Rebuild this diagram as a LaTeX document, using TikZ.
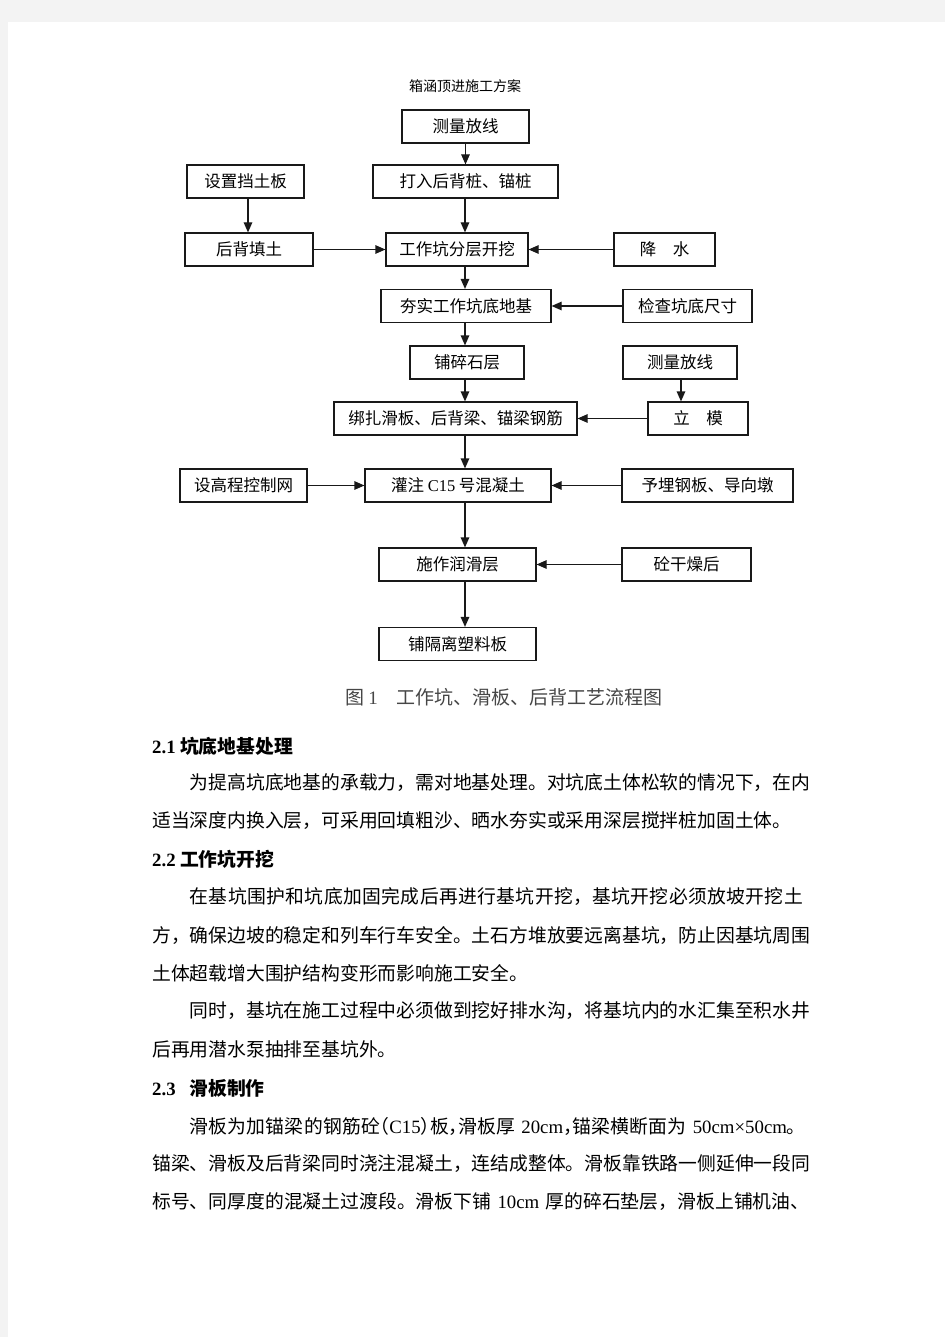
\documentclass[tikz,border=0pt]{standalone}
\usepackage{fontspec}
\setmainfont{Liberation Serif}
\newfontfamily\cjk{Noto Sans CJK SC}
\XeTeXlinebreaklocale "zh"
\XeTeXlinebreakskip=0pt plus 2pt minus 1pt
\usetikzlibrary{arrows.meta}
\definecolor{seite}{RGB}{243,243,243}
\definecolor{linie}{RGB}{25,25,25}
\definecolor{beschrift}{RGB}{70,70,70}
\newcommand{\lat}[1]{{\rmfamily #1}}
\newcommand{\zeile}[1]{{\noindent #1\parfillskip=0pt\par}}
\newcommand{\halbl}[1]{\makebox[0.5em][r]{#1}}
\newcommand{\halbr}[1]{\makebox[0.5em][l]{#1}}

\begin{document}
\begin{tikzpicture}[x=1pt, y=-1pt,
    stepbox/.style={draw=linie, line width=1.2pt, minimum height=33pt, inner sep=0pt, font=\cjk\fontsize{16.5}{18}\selectfont},
    flow/.style={draw=linie, line width=1.2pt, -{Triangle[length=10pt,width=8.5pt]}},
    bodytext/.style={anchor=west, inner sep=0pt, font=\cjk\fontsize{18.8}{22}\selectfont},
    fullline/.style={bodytext, text width=658pt}]
    \useasboundingbox (0,0) rectangle (945,1337);
    \fill[seite] (0,0) rectangle (945,1337);
    \fill[white] (8,22) rectangle (945,1337);

    % \draw[red] (152,730) rectangle (810,1220);

    \node (titel) at (465,86) {\cjk\fontsize{14}{16}\selectfont 箱涵顶进施工方案};
    \coordinate (spine) at (465,0);

    \node[stepbox, minimum width=127pt] (cl1) at (465.5,126.5) {测量放线};
    \node[stepbox, minimum width=185pt] (dr) at (465.5,181.5) {打入后背桩、锚桩};
    \node[stepbox, minimum width=117pt] (sz) at (245.5,181.5) {设置挡土板};
    \node[stepbox, minimum width=128pt] (ht) at (249,249.5) {后背填土};
    \node[stepbox, minimum width=142pt] (gk) at (457,249.5) {工作坑分层开挖};
    \node[stepbox, minimum width=101pt] (js) at (664.5,249.5) {降　水};
    \node[stepbox, minimum width=170pt] (hs) at (466,306) {夯实工作坑底地基};
    \node[stepbox, minimum width=129pt] (jc) at (687.5,306) {检查坑底尺寸};
    \node[stepbox, minimum width=114pt] (ps) at (467,362.5) {铺碎石层};
    \node[stepbox, minimum width=114pt] (cl2) at (680,362.5) {测量放线};
    \node[stepbox, minimum width=243pt] (bz) at (455.5,418.5) {绑扎滑板、后背梁、锚梁钢筋};
    \node[stepbox, minimum width=100pt] (lm) at (698,418.5) {立　模};
    \node[stepbox, minimum width=127pt] (sg) at (243.5,485.5) {设高程控制网};
    \node[stepbox, minimum width=186pt] (gz) at (458,485.5) {灌注 \lat{C15} 号混凝土};
    \node[stepbox, minimum width=171pt] (ym) at (707.5,485.5) {予埋钢板、导向墩};
    \node[stepbox, minimum width=157pt] (rh) at (457.5,564.5) {施作润滑层};
    \node[stepbox, minimum width=129pt] (tg) at (686.5,564.5) {砼干燥后};
    \node[stepbox, minimum width=157pt] (pg) at (457.5,644) {铺隔离塑料板};

    \draw[flow] (cl1) -- (dr);
    \draw[flow] (dr.south -| spine) -- (gk.north -| spine);
    \draw[flow] (sz.south -| 248,0) -- (ht.north -| 248,0);
    \draw[flow] (ht) -- (gk);
    \draw[flow] (js) -- (gk);
    \draw[flow] (gk.south -| spine) -- (hs.north -| spine);
    \draw[flow] (jc) -- (hs);
    \draw[flow] (hs.south -| spine) -- (ps.north -| spine);
    \draw[flow] (ps.south -| spine) -- (bz.north -| spine);
    \draw[flow] (cl2.south -| 681,0) -- (lm.north -| 681,0);
    \draw[flow] (lm) -- (bz);
    \draw[flow] (bz.south -| spine) -- (gz.north -| spine);
    \draw[flow] (sg) -- (gz);
    \draw[flow] (ym) -- (gz);
    \draw[flow] (gz.south -| spine) -- (rh.north -| spine);
    \draw[flow] (tg) -- (rh);
    \draw[flow] (rh.south -| spine) -- (pg.north -| spine);

    \node[anchor=west, inner sep=0pt, text=beschrift, font=\cjk\fontsize{19}{22}\selectfont] (bild) at (345,697) {图 \lat{1}\hspace{1em}工作坑、滑板、后背工艺流程图};

    \node[bodytext] (h1) at (152,746) {\bfseries\lat{2.1} 坑底地基处理};
    \node[fullline] (t1a) at (152,783) {\zeile{\hspace*{2em}为提高坑底地基的承载力，需对地基处理。对坑底土体松软的情况下，在内}};
    \node[bodytext] (t1b) at (152,821) {适当深度内换入层，可采用回填粗沙、晒水夯实或采用深层搅拌桩加固土体。};

    \node[bodytext] (h2) at (152,859) {\bfseries\lat{2.2} 工作坑开挖};
    \node[fullline] (t2a) at (152,897) {\zeile{\hspace*{2em}在基坑围护和坑底加固完成后再进行基坑开挖，基坑开挖必须放坡开挖土}};
    \node[fullline] (t2b) at (152,935) {\zeile{方，确保边坡的稳定和列车行车安全。土石方堆放要远离基坑，防止因基坑周围}};
    \node[bodytext] (t2c) at (152,973) {土体超载增大围护结构变形而影响施工安全。};
    \node[fullline] (t2d) at (152,1011) {\zeile{\hspace*{2em}同时，基坑在施工过程中必须做到挖好排水沟，将基坑内的水汇集至积水井}};
    \node[bodytext] (t2e) at (152,1049) {后再用潜水泵抽排至基坑外。};

    \node[bodytext] (h3) at (152,1088) {\bfseries\lat{2.3}\hspace{0.5em} 滑板制作};
    \node[fullline] (t3a) at (152,1126) {\zeile{\hspace*{2em}滑板为加锚梁的钢筋砼\halbl{（}\lat{C15}\halbr{）}板\halbr{，}滑板厚 \lat{20cm}\halbr{，}锚梁横断面为 \lat{50cm×50cm}。}};
    \node[fullline] (t3b) at (152,1164) {\zeile{锚梁、滑板及后背梁同时浇注混凝土，连结成整体。滑板靠铁路一侧延伸一段同}};
    \node[fullline] (t3c) at (152,1202) {\zeile{标号、同厚度的混凝土过渡段。滑板下铺 \lat{10cm} 厚的碎石垫层，滑板上铺机油、}};
\end{tikzpicture}
\end{document}
